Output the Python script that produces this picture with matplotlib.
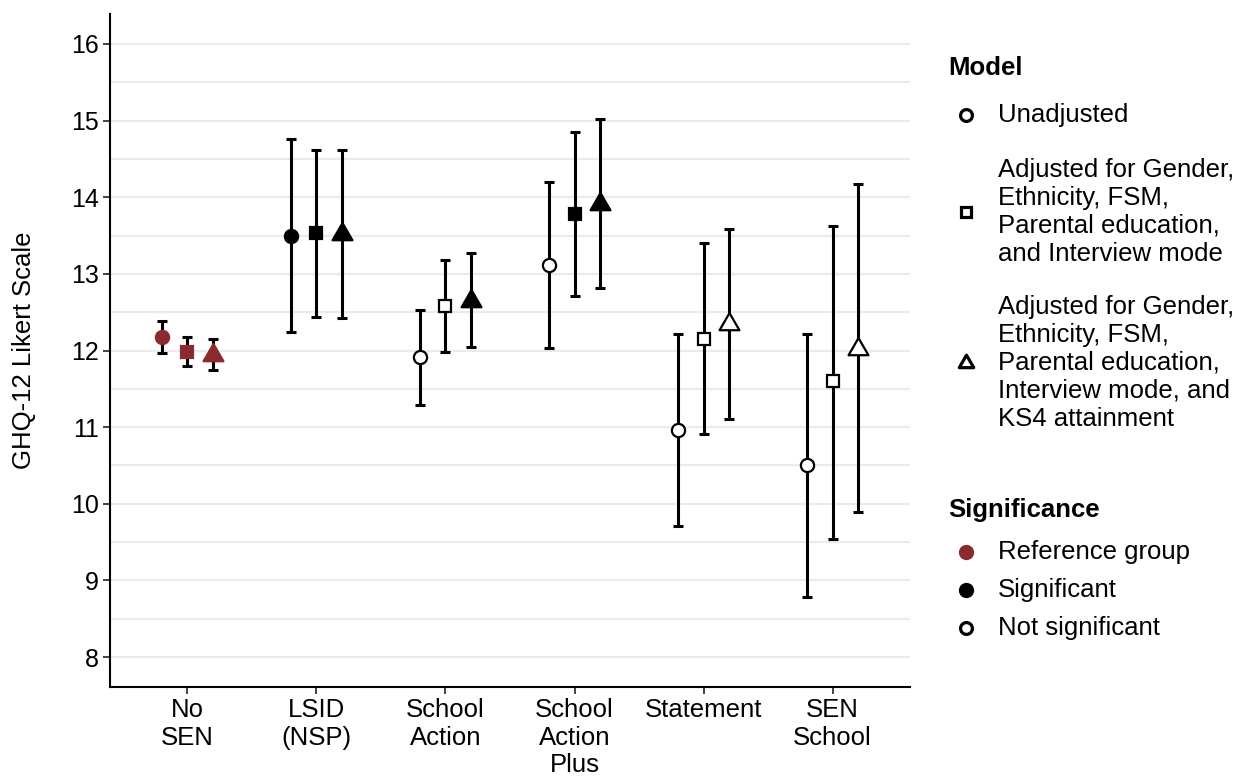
import matplotlib
matplotlib.use("Agg")
import matplotlib.pyplot as plt
from matplotlib.path import Path
import numpy as np

plt.rcParams['font.family'] = ['Liberation Sans', 'DejaVu Sans']

# categories on the x axis
categories = ["No\nSEN", "LSID\n(NSP)", "School\nAction", "School\nAction\nPlus", "Statement", "SEN\nSchool"]

# Unadjusted model
unadj_est = [12.17, 13.49, 11.91, 13.12, 10.96, 10.50]
unadj_lo = [11.97, 12.24, 11.29, 12.03, 9.71, 8.78]
unadj_hi = [12.38, 14.76, 12.53, 14.20, 12.22, 12.21]
unadj_sig = ['ref', 'sig', 'ns', 'ns', 'ns', 'ns']

# Adjusted for gender, ethnicity, FSM, parental education, interview mode
adj1_est = [11.98, 13.53, 12.58, 13.78, 12.15, 11.60]
adj1_lo = [11.80, 12.44, 11.98, 12.71, 10.91, 9.54]
adj1_hi = [12.18, 14.62, 13.18, 14.85, 13.40, 13.63]
adj1_sig = ['ref', 'sig', 'ns', 'sig', 'ns', 'ns']

# ... plus KS4 attainment
adj2_est = [11.94, 13.52, 12.65, 13.91, 12.34, 12.02]
adj2_lo = [11.74, 12.43, 12.05, 12.82, 11.11, 9.89]
adj2_hi = [12.15, 14.62, 13.27, 15.02, 13.58, 14.17]
adj2_sig = ['ref', 'sig', 'sig', 'sig', 'ns', 'ns']

model_labels = ["Unadjusted",
                "Adjusted for Gender,\nEthnicity, FSM,\nParental education,\nand Interview mode",
                "Adjusted for Gender,\nEthnicity, FSM,\nParental education,\nInterview mode, and\nKS4 attainment"]
sig_labels = ["Reference group", "Significant", "Not significant"]

REF = '#8b2a2f'
fills = {'ref': REF, 'sig': 'black', 'ns': 'white'}
edges = {'ref': REF, 'sig': 'black', 'ns': 'black'}

# triangle centred on its centroid (like R's pch 17 / 24)
tri = Path([(0, 1), (-0.866, -0.5), (0.866, -0.5), (0, 1)],
           [Path.MOVETO, Path.LINETO, Path.LINETO, Path.CLOSEPOLY])

W, H = 1249, 777
fig = plt.figure(figsize=(W / 100, H / 100), dpi=100)
ax = fig.add_axes([110 / W, 1 - 687 / H, 800 / W, (687 - 14) / H])

x = np.arange(1, len(categories) + 1)
models = [
    (unadj_est, unadj_lo, unadj_hi, unadj_sig, 'o', 9.5, -0.2),
    (adj1_est, adj1_lo, adj1_hi, adj1_sig, 's', 8.2, 0.0),
    (adj2_est, adj2_lo, adj2_hi, adj2_sig, tri, 16.5, 0.2),
]

for est, lo, hi, sig, mk, ms, off in models:
    est = np.array(est)
    yerr = [est - np.array(lo), np.array(hi) - est]
    ax.errorbar(x + off, est, yerr=yerr, fmt='none', ecolor='black',
                elinewidth=2.2, capsize=3.4, capthick=2.2, zorder=3)
    for xi, yi, s in zip(x + off, est, sig):
        ax.plot(xi, yi, marker=mk, ms=ms, mfc=fills[s], mec=edges[s],
                mew=1.6, linestyle='none', zorder=4)

ax.set_xlim(0.4, 6.6)
ax.set_ylim(7.61, 16.39)
ax.set_yticks(range(8, 17))
ax.set_yticks(np.arange(8.5, 16, 1.0), minor=True)
ax.grid(axis='y', which='both', color='#ebebeb', linewidth=1.6, zorder=0)
ax.set_axisbelow(True)
ax.set_xticks(x)
ax.set_xticklabels(categories, fontsize=18.5, linespacing=1.18)
ax.tick_params(axis='y', which='minor', length=0)
ax.tick_params(axis='both', which='major', length=5, width=1.3, color='#333333',
               labelsize=18, pad=3)
ax.tick_params(axis='x', labelsize=18.5)
for side in ['top', 'right']:
    ax.spines[side].set_visible(False)
for side in ['left', 'bottom']:
    ax.spines[side].set_linewidth(1.5)
ax.set_ylabel("GHQ-12 Likert Scale", fontsize=18.5, labelpad=25)


def fx(px):
    return px / W


def fy(py):
    return 1 - py / H


# legend: Model
fig.text(fx(948), fy(68), "Model", fontsize=18.5, fontweight='bold', va='center')
leg_y = [115, 212, 363]
leg_mk = [('o', 8.5), ('s', 7.6), (tri, 12.0)]
for ly, (mk, ms), lab in zip(leg_y, leg_mk, model_labels):
    fig.lines.append(plt.Line2D([fx(966)], [fy(ly)], transform=fig.transFigure,
                                marker=mk, ms=ms, mfc='white', mec='black', mew=2.3,
                                linestyle='none'))
    fig.text(fx(998), fy(ly), lab, fontsize=18.5, va='center', linespacing=1.2)

# legend: Significance
fig.text(fx(948), fy(510), "Significance", fontsize=18.5, fontweight='bold', va='center')
sig_y = [552, 590, 628]
for sy, key, lab in zip(sig_y, ['ref', 'sig', 'ns'], sig_labels):
    ms = 11 if key != 'ns' else 8.5
    fig.lines.append(plt.Line2D([fx(966)], [fy(sy)], transform=fig.transFigure,
                                marker='o', ms=ms, mfc=fills[key], mec=edges[key],
                                mew=2.3 if key == 'ns' else 0, linestyle='none'))
    fig.text(fx(998), fy(sy), lab, fontsize=18.5, va='center')

fig.savefig("out.png", dpi=100)
